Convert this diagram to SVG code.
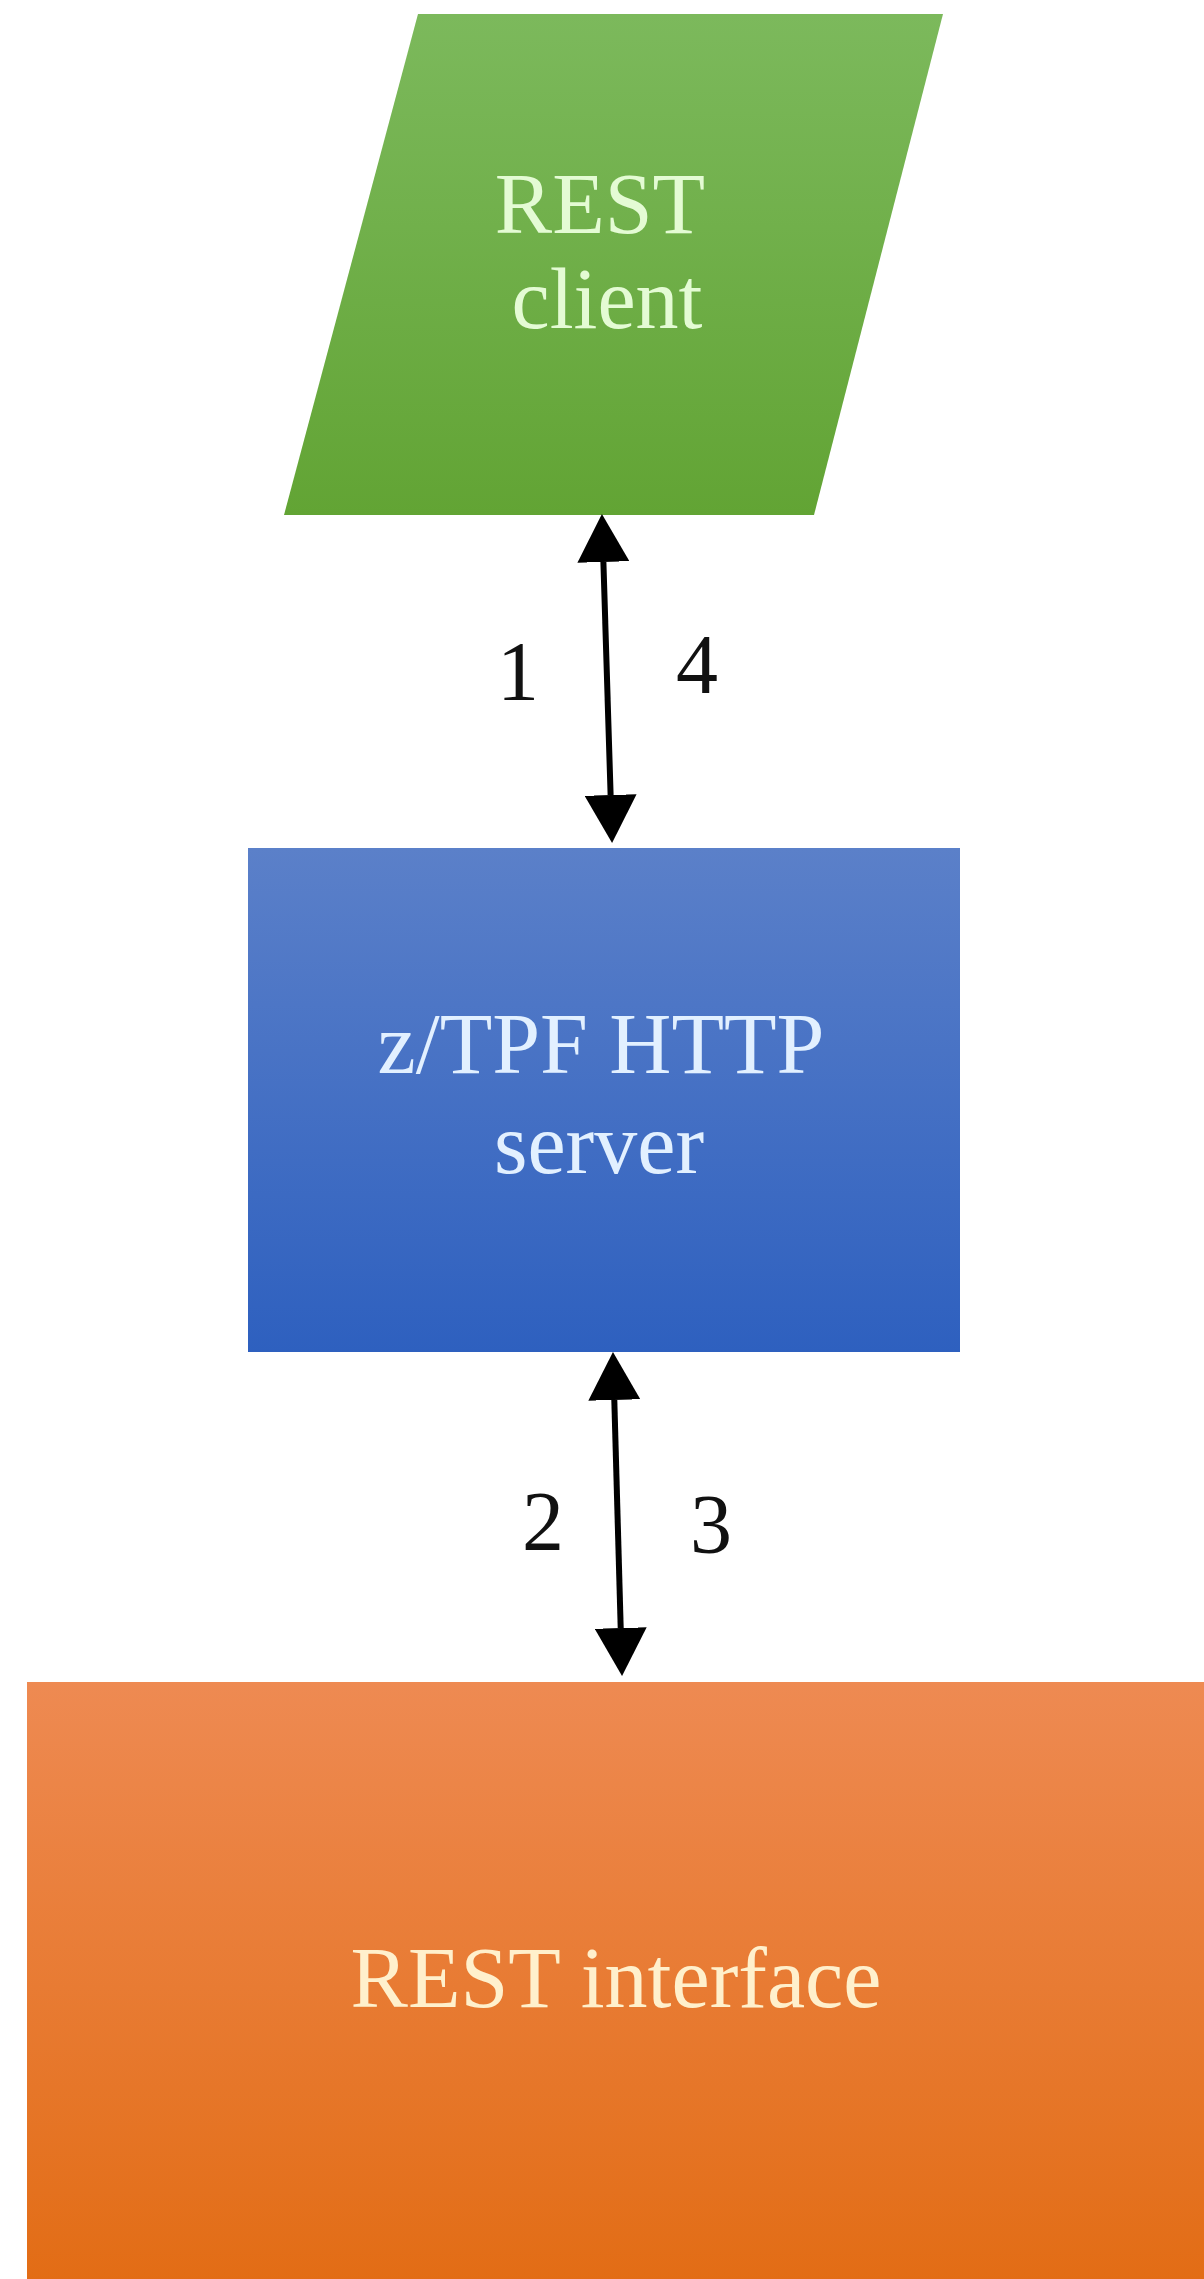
<svg xmlns="http://www.w3.org/2000/svg" width="1204" height="2279" viewBox="0 0 1204 2279">
<style>
.lbl{font-family:"Liberation Serif","Times New Roman",serif;font-size:86px;text-anchor:middle}
.num{font-family:"Liberation Serif","Times New Roman",serif;font-size:84px;text-anchor:middle;fill:#111}
.conn{stroke:#000;stroke-width:6;fill:none;marker-start:url(#ah);marker-end:url(#ah)}
</style>
<defs>
<linearGradient id="gG" x1="0" y1="0" x2="0" y2="1"><stop offset="0" stop-color="#7cb95c"/><stop offset="1" stop-color="#62a434"/></linearGradient>
<linearGradient id="gB" x1="0" y1="0" x2="0" y2="1"><stop offset="0" stop-color="#5b80c9"/><stop offset="1" stop-color="#2e60bf"/></linearGradient>
<linearGradient id="gO" x1="0" y1="0" x2="0" y2="1"><stop offset="0" stop-color="#ee8a52"/><stop offset="1" stop-color="#e26c14"/></linearGradient>
<marker id="ah" markerUnits="userSpaceOnUse" viewBox="0 0 48 52" refX="0" refY="26" markerWidth="48" markerHeight="52" orient="auto-start-reverse">
<path d="M0,0 L48,26 L0,52 z" fill="#000"/>
</marker>
</defs>
<rect width="1204" height="2279" fill="#fff"/>
<g id="rest-client">
<polygon points="418,14 943,14 814,515 284,515" fill="url(#gG)"/>
<text class="lbl" x="600" y="233" fill="#e4fbd4">REST</text>
<text class="lbl" x="607" y="328" fill="#e4fbd4">client</text>
</g>
<g id="http-server">
<rect x="248" y="848" width="712" height="504" fill="url(#gB)"/>
<text class="lbl" x="601" y="1073" fill="#e2f0ff">z/TPF HTTP</text>
<text class="lbl" x="599" y="1173" fill="#e2f0ff">server</text>
</g>
<g id="rest-interface">
<rect x="27" y="1682" width="1190" height="610" fill="url(#gO)"/>
<text class="lbl" x="616" y="2007" fill="#fff0cc">REST interface</text>
</g>
<g id="connectors">
<line class="conn" x1="603.4" y1="562" x2="610.6" y2="795"/>
<line class="conn" x1="614.3" y1="1400" x2="620.7" y2="1628"/>
<text class="num" x="518" y="700">1</text>
<text class="num" x="697" y="693">4</text>
<text class="num" x="543" y="1550">2</text>
<text class="num" x="711" y="1553">3</text>
</g>
</svg>
